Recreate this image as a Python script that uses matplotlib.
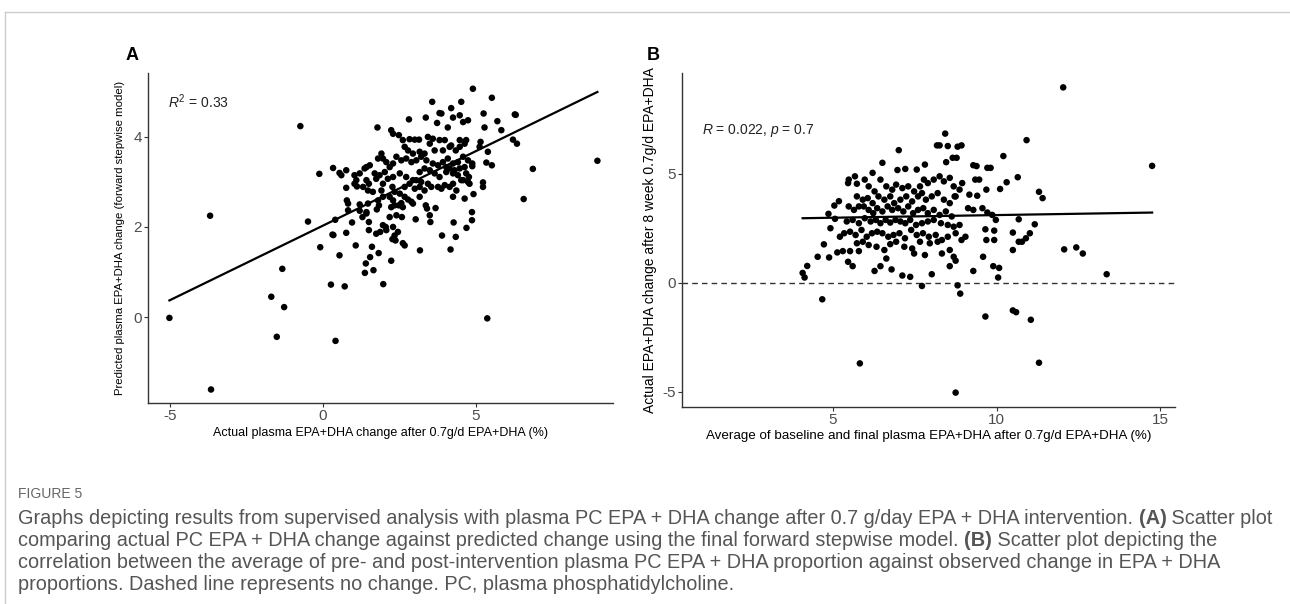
import numpy as np
import matplotlib
matplotlib.use("Agg")
import matplotlib.pyplot as plt
from matplotlib import font_manager

# ---------------------------------------------------------------
# data
# ---------------------------------------------------------------
# panel A: actual change (x) vs predicted change (y)
a_x = [-5.02, -3.66, -3.69, -0.74, -1.69, -1.33, -1.27, -1.51, 0.41, -0.49, -0.12, -0.09, 0.26, 0.71,
       0.54, 0.31, 0.34, 0.40, 0.76, 0.95, 1.07, 1.37, 1.65, 1.40, 1.54, 1.60, 1.82, 1.97, 2.23, 3.17,
       4.17, 3.89, 4.34, 4.27, 4.69, 4.87, 4.87, 4.92, 4.63, 5.37, 6.56, 6.86, 8.97, 4.90, 5.52, 6.30,
       6.27, 6.34, 6.21, 5.83, 5.70, 5.25, 5.28, 5.52, 5.39, 5.34, 5.15, 5.12, 5.23, 5.23, 4.52, 4.19,
       4.25, 4.47, 4.58, 4.74, 4.08, 3.57, 3.81, 3.87, 3.36, 3.73, 2.81, 1.78, 2.23, 2.29, 2.48,
       2.61, 2.83, 3.00, 3.14, 3.43, 3.59, 3.81, 3.98, 4.14, 4.47, 4.68, 3.16, 3.32, 3.49, 3.65, 3.92,
       4.19, 4.34, 4.47, 4.63, 2.67, 2.78, 2.94,
       1.80, 1.96, 2.07, 2.18, 2.29, 2.40, 2.56, 2.72, 2.89, 3.05, 3.21, 3.38, 3.59, 3.76, 3.92, 4.08,
       4.25, 4.41, 4.58, 4.74, 4.88, 4.88, 4.63, 4.47, 1.91, 1.53, 1.42, 0.33, 0.54, 0.76, 1.03, 1.20, 1.36,
       1.69, 1.85, 2.02, 2.29, 2.51, 2.72, 2.94, 3.16, 3.32, 3.49, 3.65, 3.81, 4.03, 4.25, 4.41, 4.68,
       4.77, 4.03, 4.14, 4.30, 4.58, 0.60, 1.03, 1.09, 1.42, 1.50, 1.74, 1.96, 2.12, 2.27,
       0.76, 1.11, 1.31, 1.47, 1.63, 1.91, 2.18, 2.34, 2.51, 2.67, 2.83, 3.00, 3.16, 3.32, 3.43, 3.54,
       3.76, 3.87, 3.98, 4.14, 4.25, 4.36, 4.52, 4.74, 4.79, 3.05, 3.21,
       0.78, 0.82, 1.20, 1.47, 1.80, 1.83, 1.96, 2.29, 2.34, 2.48, 2.56, 2.67, 2.78, 2.89, 2.94, 2.61,
       3.36, 3.40, 3.68, 4.25, 2.23, 1.76, 1.42, 0.82, 1.20, 3.16,
       1.42, 1.29, 1.50, 2.18, 2.40, 2.58, 3.03, 3.49, 3.51, 1.50, 1.96, 2.05, 2.29, 2.45, 2.34, 2.27,
       2.37, 2.67, 2.61, 2.07, 1.87, 1.74]
a_y = [-0.02, -1.61, 2.25, 4.24, 0.45, 1.07, 0.22, -0.44, -0.53, 2.12, 3.18, 1.55, 0.72, 0.68,
       1.37, 1.83, 1.82, 2.16, 1.87, 2.10, 1.59, 0.98, 1.04, 1.19, 1.33, 1.56, 1.42, 0.73, 1.25, 1.48,
       1.50, 1.81, 1.78, 2.10, 1.98, 2.15, 2.33, 2.73, 2.63, -0.03, 2.62, 3.29, 3.47, 5.07, 4.87, 4.49,
       4.50, 3.85, 3.94, 4.15, 4.35, 4.52, 4.21, 3.37, 3.67, 3.43, 3.89, 3.78, 2.89, 2.99, 4.78, 4.64,
       4.43, 4.48, 4.33, 4.37, 4.21, 4.78, 4.53, 4.52, 4.43, 4.31, 4.39, 4.21, 4.15, 4.07, 4.04,
       3.93, 3.95, 3.94, 3.94, 4.00, 3.96, 3.93, 3.93, 3.78, 3.93, 3.93, 3.67, 3.63, 3.85, 3.70, 3.70,
       3.81, 3.70, 3.78, 3.85, 3.78, 3.70, 3.63,
       3.52, 3.52, 3.44, 3.33, 3.41, 3.56, 3.48, 3.52, 3.44, 3.48, 3.56, 3.48, 3.41, 3.37, 3.44, 3.52,
       3.41, 3.44, 3.56, 3.48, 3.41, 3.35, 3.33, 3.30, 3.63, 3.37, 3.33, 3.31, 3.20, 3.26, 3.15, 3.19, 3.30,
       3.19, 3.15, 3.22, 3.11, 3.19, 3.11, 3.04, 3.22, 3.30, 3.26, 3.19, 3.11, 3.22, 3.19, 3.15, 3.19,
       3.11, 3.33, 3.30, 3.26, 3.04, 3.15, 2.96, 3.04, 3.04, 2.96, 3.07, 2.96, 3.07, 2.89,
       2.87, 2.90, 2.89, 2.81, 2.78, 2.81, 2.67, 2.78, 2.74, 2.89, 2.96, 2.85, 2.89, 2.81, 2.96, 2.89,
       2.89, 2.85, 2.93, 2.89, 2.96, 2.81, 3.04, 3.00, 2.96, 3.04, 3.00,
       2.59, 2.52, 2.50, 2.52, 2.59, 2.48, 2.67, 2.59, 2.48, 2.48, 2.53, 2.67, 2.61, 2.56, 2.52, 2.44,
       2.48, 2.41, 2.42, 2.67, 2.44, 2.39, 2.33, 2.37, 2.36, 2.67,
       2.30, 2.22, 2.11, 2.22, 2.26, 2.22, 2.17, 2.26, 2.11, 1.93, 2.04, 2.00, 2.00, 1.89, 1.81, 1.73,
       1.70, 1.59, 1.64, 1.93, 1.89, 1.85]
a_fit = [0.331, 2.03]          # slope, intercept of the drawn fit line
a_label = "$R^2$ = 0.33"

# panel B: mean of baseline/final (x) vs actual change (y)
b_x = [12.04, 14.76, 10.92, 8.43, 7.01, 10.21, 12.07, 12.44, 12.64, 13.37, 11.30, 11.41, 11.17, 11.30,
       11.05, 10.50, 10.60, 9.66, 8.75, 5.82, 4.67, 4.07, 4.13, 4.21, 4.53, 4.72, 4.88, 4.92, 4.86, 5.04,
       5.18, 5.06, 5.21, 5.13, 5.30, 5.52, 5.46, 5.60, 5.79, 6.27, 6.45, 6.63, 6.79, 7.12, 7.36, 7.72,
       8.02, 8.57, 8.75, 8.81, 8.89, 9.29, 9.90, 10.05, 10.08, 9.59, 10.50, 10.68, 10.78, 10.90, 11.02,
       10.50, 10.68, 9.93, 9.93, 9.69, 9.66, 9.69, 10.11, 10.31, 10.65, 9.72, 9.82, 9.29, 9.39, 8.93,
       8.81, 8.51, 8.18, 8.26, 8.66, 8.78, 8.46, 7.81, 7.56, 7.21, 6.97, 6.51, 6.21, 5.67, 5.48, 5.46,
       5.73, 9.35, 9.47, 8.95, 9.41, 9.17, 9.57, 9.72, 9.29, 9.13, 9.87, 9.98, 8.87,
       5.97, 6.09, 6.27, 6.45, 6.63, 6.81, 6.93, 7.12, 7.30, 7.48, 7.66, 7.78, 7.90, 8.08, 8.26, 8.39,
       8.57, 8.69, 8.87, 8.75,
       5.73, 5.91, 6.06, 6.21, 6.39, 6.57, 6.75, 6.87, 7.06, 7.24, 7.42, 7.60, 7.72, 7.84, 8.02, 8.20,
       8.39, 8.57, 8.72,
       5.48, 5.64, 5.79, 5.94, 6.09, 6.23, 6.35, 6.51, 6.67, 6.81, 6.99, 7.15, 7.30, 7.45, 7.60, 7.76,
       7.90, 8.08, 8.26, 8.45, 8.63,
       5.42, 5.60, 5.79, 5.97, 6.15, 6.31, 6.45, 6.61, 6.75, 6.91, 7.06, 7.21, 7.36, 7.54, 7.72, 7.90,
       8.08, 8.30, 8.51, 8.69,
       5.34, 5.52, 5.69, 5.87, 6.03, 6.19, 6.35, 6.51, 6.69, 6.85, 7.03, 7.20, 7.39, 7.56, 7.75, 7.93,
       8.14, 8.33, 8.51, 8.75, 8.93, 9.05,
       5.73, 5.91, 6.09, 6.33, 6.57, 6.75, 6.93, 7.18, 7.42, 7.66, 7.81, 7.96, 8.20, 8.33, 8.57, 8.69, 7.48]
b_y = [8.97, 5.37, 6.55, 6.85, 6.09, 5.82, 1.54, 1.63, 1.35, 0.40, 4.18, 3.89, 2.69, -3.66,
       -1.69, -1.26, -1.34, -1.54, -5.03, -3.69, -0.75, 0.46, 0.25, 0.78, 1.20, 1.77, 1.17, 2.51, 3.17, 3.55,
       3.75, 2.94, 2.12, 1.40, 1.46, 1.46, 0.97, 0.77, 1.46, 0.55, 0.77, 1.12, 0.62, 0.34, 0.28, -0.14,
       0.40, 0.77, 1.02, -0.11, -0.49, 0.55, 0.77, 0.25, 0.69, 1.20, 1.51, 1.89, 1.89, 2.05, 2.28,
       2.31, 2.92, 2.40, 1.97, 1.97, 2.46, 4.28, 4.31, 4.62, 4.85, 5.28, 5.28, 5.40, 5.36, 6.31,
       6.25, 6.28, 6.31, 6.31, 5.74, 5.74, 5.54, 5.43, 5.20, 5.23, 5.18, 5.51, 5.05, 4.89, 4.74, 4.58,
       4.55, 4.74, 4.74, 4.58, 4.00, 4.05, 3.43, 3.23, 3.35, 3.43, 3.12, 2.89, 2.66,
       4.74, 4.43, 4.20, 4.74, 4.43, 4.28, 4.51, 4.35, 4.43, 4.20, 4.43, 4.74, 4.58, 4.74, 4.89, 4.66,
       4.82, 4.43, 4.28, 3.97,
       3.97, 3.82, 3.89, 3.66, 3.97, 3.82, 3.97, 3.66, 3.82, 3.97, 3.74, 3.97, 4.12, 3.82, 3.97, 4.12,
       3.82, 3.66, 3.97,
       3.51, 3.35, 3.51, 3.51, 3.35, 3.20, 3.43, 3.28, 3.51, 3.35, 3.43, 3.28, 3.51, 3.20, 3.35, 3.43,
       3.20, 3.35, 3.12, 3.28, 3.05,
       2.82, 2.89, 2.74, 2.97, 2.82, 2.89, 2.74, 2.89, 2.77, 2.89, 2.82, 2.74, 2.89, 2.66, 2.74, 2.82,
       2.89, 2.74, 2.66, 2.58,
       2.28, 2.35, 2.20, 2.43, 2.12, 2.28, 2.35, 2.28, 2.12, 2.20, 2.28, 2.05, 2.43, 2.20, 2.28, 2.12,
       2.20, 1.97, 2.12, 2.28, 1.97, 2.12,
       1.82, 1.89, 1.74, 1.66, 1.51, 1.78, 1.89, 1.66, 1.58, 1.89, 1.28, 1.82, 1.89, 1.35, 1.51, 1.20, 1.35]
b_fit = [0.0243, 2.87]
b_label = "$R$ = 0.022, $p$ = 0.7"

a_xticks = [-5, 0, 5]
a_yticks = [0, 2, 4]
b_xticks = [5, 10, 15]
b_yticks = [-5, 0, 5]

caption_lines = [
    [("Graphs depicting results from supervised analysis with plasma PC EPA + DHA change after 0.7 g/day EPA + DHA intervention. ", False),
     ("(A)", True), (" Scatter plot", False)],
    [("comparing actual PC EPA + DHA change against predicted change using the final forward stepwise model. ", False),
     ("(B)", True), (" Scatter plot depicting the", False)],
    [("correlation between the average of pre- and post-intervention plasma PC EPA + DHA proportion against observed change in EPA + DHA", False)],
    [("proportions. Dashed line represents no change. PC, plasma phosphatidylcholine.", False)],
]

# ---------------------------------------------------------------
# fonts
# ---------------------------------------------------------------
installed = {f.name for f in font_manager.fontManager.ttflist}
narrow = next((f for f in ["Liberation Sans Narrow", "Arial Narrow", "Liberation Sans"] if f in installed), "DejaVu Sans")
plt.rcParams["font.family"] = [narrow, "DejaVu Sans"]
plt.rcParams["mathtext.fontset"] = "custom"
plt.rcParams["mathtext.rm"] = narrow
plt.rcParams["mathtext.it"] = narrow + ":italic"
plt.rcParams["axes.unicode_minus"] = False

# ---------------------------------------------------------------
# figure
# ---------------------------------------------------------------
fig = plt.figure(figsize=(12.9, 6.04), dpi=100)
W, H = 1290, 604

def px_axes(l, t, r, b):
    return fig.add_axes([l / W, 1 - b / H, (r - l) / W, (b - t) / H])

axA = px_axes(148, 73, 613, 403)
axB = px_axes(682, 73, 1175, 407)

for ax in (axA, axB):
    for s in ("top", "right"):
        ax.spines[s].set_visible(False)
    for s in ("left", "bottom"):
        ax.spines[s].set_color("#333333")
        ax.spines[s].set_linewidth(1.0)
    ax.tick_params(length=3, width=0.8, color="#333333", labelcolor="#4d4d4d", labelsize=11, pad=1.5)

# panel A
axA.scatter(a_x, a_y, s=22, color="black", edgecolors="none", zorder=3)
xs = np.array([min(a_x), max(a_x)])
axA.plot(xs, a_fit[0] * xs + a_fit[1], color="black", lw=1.6, zorder=2)
axA.set_xlim(-5.72, 9.48)
axA.set_ylim(-1.91, 5.42)
axA.set_xticks(a_xticks)
axA.set_yticks(a_yticks)
axA.text(-5.05, 4.78, a_label, fontsize=10, ha="left", va="center", color="#222222")
axA.set_xlabel("Actual plasma EPA+DHA change after 0.7g/d EPA+DHA (%)", fontsize=9, labelpad=3)
axA.set_ylabel("Predicted plasma EPA+DHA change (forward stepwise model)", fontsize=8.2, labelpad=6)

# panel B
axB.scatter(b_x, b_y, s=22, color="black", edgecolors="none", zorder=3)
xs = np.array([min(b_x), max(b_x)])
axB.plot(xs, b_fit[0] * xs + b_fit[1], color="black", lw=1.6, zorder=2)
axB.axhline(0, color="#333333", lw=1.0, ls=(0, (4, 3)), zorder=1)
axB.set_xlim(0.38, 15.46)
axB.set_ylim(-5.69, 9.63)
axB.set_xticks(b_xticks)
axB.set_yticks(b_yticks)
axB.text(1.0, 7.0, b_label, fontsize=10, ha="left", va="center", color="#222222")
axB.set_xlabel("Average of baseline and final plasma EPA+DHA after 0.7g/d EPA+DHA (%)", fontsize=9.6, labelpad=2)
axB.set_ylabel("Actual EPA+DHA change after 8 week 0.7g/d EPA+DHA", fontsize=10, labelpad=4)

# panel letters
fig.text(132 / W, 1 - 55 / H, "A", fontsize=13, fontweight="bold", ha="center", va="center", family="Liberation Sans")
fig.text(653 / W, 1 - 55 / H, "B", fontsize=13, fontweight="bold", ha="center", va="center", family="Liberation Sans")

# page frame (top + left rule)
fig.add_artist(plt.Line2D([5 / W, 1], [1 - 12 / H, 1 - 12 / H], color="#cccccc", lw=1))
fig.add_artist(plt.Line2D([5 / W, 5 / W], [0, 1 - 12 / H], color="#cccccc", lw=1))

# caption
fig.text(18 / W, 1 - 494 / H, "FIGURE 5", fontsize=10, color="#666666", va="center")
renderer = fig.canvas.get_renderer()
for i, parts in enumerate(caption_lines):
    x = 18 / W
    y = 1 - (519 + 22 * i) / H
    for txt, bold in parts:
        t = fig.text(x, y, txt, fontsize=14.3, color="#555555", va="center",
                     fontweight="bold" if bold else "normal")
        x += t.get_window_extent(renderer=renderer).width / W

fig.savefig("out.png", dpi=100)
